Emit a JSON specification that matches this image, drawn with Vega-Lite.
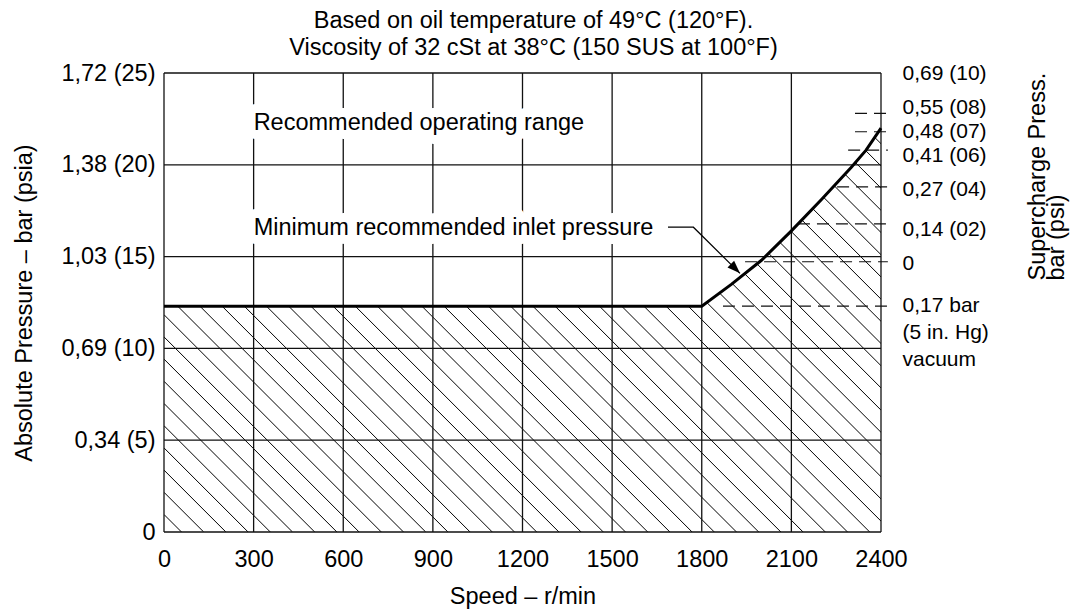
{
  "$schema": "https://vega.github.io/schema/vega-lite/v6.json",
  "width": 717,
  "height": 459,
  "autosize": {"type": "none"},
  "padding": {"left": 164, "top": 73, "right": 194, "bottom": 80},
  "background": "white",
  "title": {
    "text": ["Based on oil temperature of 49°C (120°F).", "Viscosity of 32 cSt at 38°C (150 SUS at 100°F)"],
    "anchor": "middle",
    "dx": 11,
    "offset": 2,
    "lineHeight": 27,
    "fontSize": 23.5,
    "font": "Liberation Sans",
    "fontWeight": "normal",
    "color": "black"
  },
  "datasets": {
    "curve": [
      {"rpm": 0, "psi": 12.3, "top": 25}, {"rpm": 1800, "psi": 12.3, "top": 25}, {"rpm": 1900, "psi": 13.5, "top": 25},
      {"rpm": 2000, "psi": 14.8, "top": 25}, {"rpm": 2100, "psi": 16.4, "top": 25}, {"rpm": 2200, "psi": 18.1, "top": 25},
      {"rpm": 2300, "psi": 19.85, "top": 25}, {"rpm": 2350, "psi": 20.8, "top": 25}, {"rpm": 2400, "psi": 22.0, "top": 25}
    ],
    "hatch": [
      {"r0": 0, "p0": 0.953, "r1": 58.6, "p1": 0}, {"r0": 0, "p0": 2.162, "r1": 132.9, "p1": 0},
      {"r0": 0, "p0": 3.371, "r1": 207.2, "p1": 0}, {"r0": 0, "p0": 4.581, "r1": 281.5, "p1": 0},
      {"r0": 0, "p0": 5.790, "r1": 355.8, "p1": 0}, {"r0": 0, "p0": 6.999, "r1": 430.1, "p1": 0},
      {"r0": 0, "p0": 8.208, "r1": 504.4, "p1": 0}, {"r0": 0, "p0": 9.417, "r1": 578.7, "p1": 0},
      {"r0": 0, "p0": 10.626, "r1": 653.1, "p1": 0}, {"r0": 0, "p0": 11.836, "r1": 727.4, "p1": 0},
      {"r0": 0, "p0": 13.045, "r1": 801.7, "p1": 0}, {"r0": 0, "p0": 14.254, "r1": 876.0, "p1": 0},
      {"r0": 0, "p0": 15.463, "r1": 950.3, "p1": 0}, {"r0": 0, "p0": 16.672, "r1": 1024.6, "p1": 0},
      {"r0": 0, "p0": 17.881, "r1": 1098.9, "p1": 0}, {"r0": 0, "p0": 19.091, "r1": 1173.2, "p1": 0},
      {"r0": 0, "p0": 20.300, "r1": 1247.5, "p1": 0}, {"r0": 0, "p0": 21.509, "r1": 1321.9, "p1": 0},
      {"r0": 0, "p0": 22.718, "r1": 1396.2, "p1": 0}, {"r0": 0, "p0": 23.927, "r1": 1470.5, "p1": 0},
      {"r0": 0, "p0": 25.136, "r1": 1544.8, "p1": 0}, {"r0": 0, "p0": 26.346, "r1": 1619.1, "p1": 0},
      {"r0": 0, "p0": 27.555, "r1": 1693.4, "p1": 0}, {"r0": 0, "p0": 28.764, "r1": 1767.7, "p1": 0},
      {"r0": 0, "p0": 29.973, "r1": 1842.0, "p1": 0}, {"r0": 0, "p0": 31.182, "r1": 1916.3, "p1": 0},
      {"r0": 0, "p0": 32.391, "r1": 1990.6, "p1": 0}, {"r0": 0, "p0": 33.601, "r1": 2064.9, "p1": 0},
      {"r0": 0, "p0": 34.810, "r1": 2139.2, "p1": 0}, {"r0": 0, "p0": 36.019, "r1": 2213.6, "p1": 0},
      {"r0": 0, "p0": 37.228, "r1": 2287.9, "p1": 0}, {"r0": 0, "p0": 38.437, "r1": 2362.2, "p1": 0},
      {"r0": 0, "p0": 39.646, "r1": 2436.5, "p1": 0}, {"r0": 0, "p0": 40.855, "r1": 2510.8, "p1": 0},
      {"r0": 0, "p0": 42.065, "r1": 2585.1, "p1": 0}, {"r0": 0, "p0": 43.274, "r1": 2659.4, "p1": 0},
      {"r0": 0, "p0": 44.483, "r1": 2733.7, "p1": 0}, {"r0": 0, "p0": 45.692, "r1": 2808.0, "p1": 0},
      {"r0": 0, "p0": 46.901, "r1": 2882.4, "p1": 0}, {"r0": 0, "p0": 48.110, "r1": 2956.7, "p1": 0},
      {"r0": 0, "p0": 49.319, "r1": 3031.0, "p1": 0}, {"r0": 0, "p0": 50.528, "r1": 3105.3, "p1": 0},
      {"r0": 0, "p0": 51.737, "r1": 3179.6, "p1": 0}, {"r0": 0, "p0": 52.946, "r1": 3253.9, "p1": 0},
      {"r0": 0, "p0": 54.156, "r1": 3328.2, "p1": 0}, {"r0": 0, "p0": 55.365, "r1": 3402.5, "p1": 0},
      {"r0": 0, "p0": 56.574, "r1": 3476.8, "p1": 0}, {"r0": 0, "p0": 57.783, "r1": 3551.1, "p1": 0},
      {"r0": 0, "p0": 58.992, "r1": 3625.4, "p1": 0}, {"r0": 0, "p0": 60.202, "r1": 3699.8, "p1": 0}
    ],
    "gridx": [{"rpm": 0}, {"rpm": 300}, {"rpm": 600}, {"rpm": 900}, {"rpm": 1200}, {"rpm": 1500}, {"rpm": 1800}, {"rpm": 2100}, {"rpm": 2400}],
    "gridy": [{"psi": 0}, {"psi": 5}, {"psi": 10}, {"psi": 15}, {"psi": 20}, {"psi": 25}],
    "dashes": [
      {"psi": 22.8, "from": 2313, "to": 2423}, {"psi": 21.8, "from": 2313, "to": 2423},
      {"psi": 20.8, "from": 2290, "to": 2423}, {"psi": 18.8, "from": 2253, "to": 2423},
      {"psi": 16.78, "from": 2122, "to": 2423}, {"psi": 14.72, "from": 1945, "to": 2423},
      {"psi": 12.3, "from": 1871, "to": 2423}
    ],
    "notes": [
      {"rpm": 300, "psi": 21.9, "label": "Recommended operating range"},
      {"rpm": 300, "psi": 16.18, "label": "Minimum recommended inlet pressure"}
    ],
    "leader": [
      {"rpm": 1687, "psi": 16.6, "o": 0}, {"rpm": 1772, "psi": 16.6, "o": 1}, {"rpm": 1928, "psi": 14.09, "o": 2}
    ],
    "arrow": [{"rpm": 1928, "psi": 14.09}]
  },
  "resolve": {"axis": {"x": "independent", "y": "independent"}},
  "layer": [
    {
      "data": {"name": "hatch"},
      "mark": {"type": "rule", "clip": true, "color": "black", "strokeWidth": 1},
      "encoding": {
        "x": {"field": "r0", "type": "quantitative", "scale": {"domain": [0, 2400], "nice": false, "zero": false}, "axis": null},
        "y": {"field": "p0", "type": "quantitative", "scale": {"domain": [0, 25], "nice": false, "zero": false}, "axis": null},
        "x2": {"field": "r1"},
        "y2": {"field": "p1"}
      }
    },
    {
      "data": {"name": "curve"},
      "mark": {"type": "area", "fill": "white", "clip": true},
      "encoding": {
        "x": {"field": "rpm", "type": "quantitative", "axis": null},
        "y": {"field": "psi", "type": "quantitative", "axis": null},
        "y2": {"field": "top"}
      }
    },
    {
      "data": {"name": "gridx"},
      "mark": {"type": "rule", "color": "#111", "strokeWidth": 1.3},
      "encoding": {
        "x": {
          "field": "rpm", "type": "quantitative",
          "axis": {
            "orient": "bottom",
            "values": [0, 300, 600, 900, 1200, 1500, 1800, 2100, 2400],
            "format": "d",
            "title": "Speed – r/min",
            "labelPadding": 15,
            "titlePadding": 14
          }
        }
      }
    },
    {
      "data": {"name": "gridy"},
      "mark": {"type": "rule", "color": "#111", "strokeWidth": 1.3},
      "encoding": {
        "y": {
          "field": "psi", "type": "quantitative",
          "axis": {
            "orient": "left",
            "values": [0, 5, 10, 15, 20, 25],
            "labelExpr": "datum.value == 0 ? '0' : datum.value == 5 ? '0,34 (5)' : datum.value == 10 ? '0,69 (10)' : datum.value == 15 ? '1,03 (15)' : datum.value == 20 ? '1,38 (20)' : '1,72 (25)'",
            "title": "Absolute Pressure – bar (psia)",
            "labelPadding": 9,
            "titlePadding": 24
          }
        }
      }
    },
    {
      "data": {"name": "dashes"},
      "mark": {"type": "rule", "color": "#111", "strokeWidth": 1.2, "strokeDash": [12, 7]},
      "encoding": {
        "x": {"field": "from", "type": "quantitative", "axis": null},
        "x2": {"field": "to"},
        "y": {
          "field": "psi", "type": "quantitative",
          "axis": {
            "orient": "right",
            "values": [25, 23.12, 21.81, 20.51, 18.68, 16.5, 14.64, 12.32],
            "labelExpr": "datum.value == 25 ? '0,69 (10)' : datum.value == 23.12 ? '0,55 (08)' : datum.value == 21.81 ? '0,48 (07)' : datum.value == 20.51 ? '0,41 (06)' : datum.value == 18.68 ? '0,27 (04)' : datum.value == 16.5 ? '0,14 (02)' : datum.value == 14.64 ? '0' : ['0,17 bar', '(5 in. Hg)', 'vacuum']",
            "labelFontSize": 21,
            "labelPadding": 21,
            "labelLineHeight": 27,
            "title": ["Supercharge Press.", "bar (psi)"],
            "titleAngle": -90,
            "titleAlign": "left",
            "titleBaseline": "top",
            "titleLineHeight": 19,
            "titleX": 144,
            "titleY": 207
          }
        }
      }
    },
    {
      "data": {"name": "notes"},
      "mark": {"type": "text", "align": "left", "baseline": "alphabetic", "fontSize": 23.5, "font": "Liberation Sans", "fill": "white", "stroke": "white", "strokeWidth": 18, "strokeJoin": "round"},
      "encoding": {
        "x": {"field": "rpm", "type": "quantitative", "axis": null},
        "y": {"field": "psi", "type": "quantitative", "axis": null},
        "text": {"field": "label", "type": "nominal"}
      }
    },
    {
      "data": {"name": "notes"},
      "mark": {"type": "text", "align": "left", "baseline": "alphabetic", "fontSize": 23.5, "font": "Liberation Sans", "color": "black"},
      "encoding": {
        "x": {"field": "rpm", "type": "quantitative", "axis": null},
        "y": {"field": "psi", "type": "quantitative", "axis": null},
        "text": {"field": "label", "type": "nominal"}
      }
    },
    {
      "data": {"name": "leader"},
      "mark": {"type": "line", "color": "black", "strokeWidth": 1.2},
      "encoding": {
        "x": {"field": "rpm", "type": "quantitative", "axis": null},
        "y": {"field": "psi", "type": "quantitative", "axis": null},
        "order": {"field": "o", "type": "quantitative"}
      }
    },
    {
      "data": {"name": "arrow"},
      "mark": {"type": "point", "filled": true, "color": "black", "opacity": 1, "shape": "M0,0L-1,-0.36L-1,0.36Z", "angle": 45, "size": 676},
      "encoding": {
        "x": {"field": "rpm", "type": "quantitative", "axis": null},
        "y": {"field": "psi", "type": "quantitative", "axis": null}
      }
    },
    {
      "data": {"name": "curve"},
      "mark": {"type": "line", "color": "black", "strokeWidth": 3},
      "encoding": {
        "x": {"field": "rpm", "type": "quantitative", "axis": null},
        "y": {"field": "psi", "type": "quantitative", "axis": null}
      }
    }
  ],
  "config": {
    "view": {"stroke": null},
    "font": "Liberation Sans",
    "axis": {
      "labelFont": "Liberation Sans",
      "titleFont": "Liberation Sans",
      "labelFontSize": 23.5,
      "titleFontSize": 23.5,
      "labelColor": "black",
      "titleColor": "black",
      "titleFontWeight": "normal",
      "ticks": false,
      "domain": false,
      "grid": false,
      "labelOverlap": false,
      "labelFlush": false,
      "labelBound": false
    }
  }
}
